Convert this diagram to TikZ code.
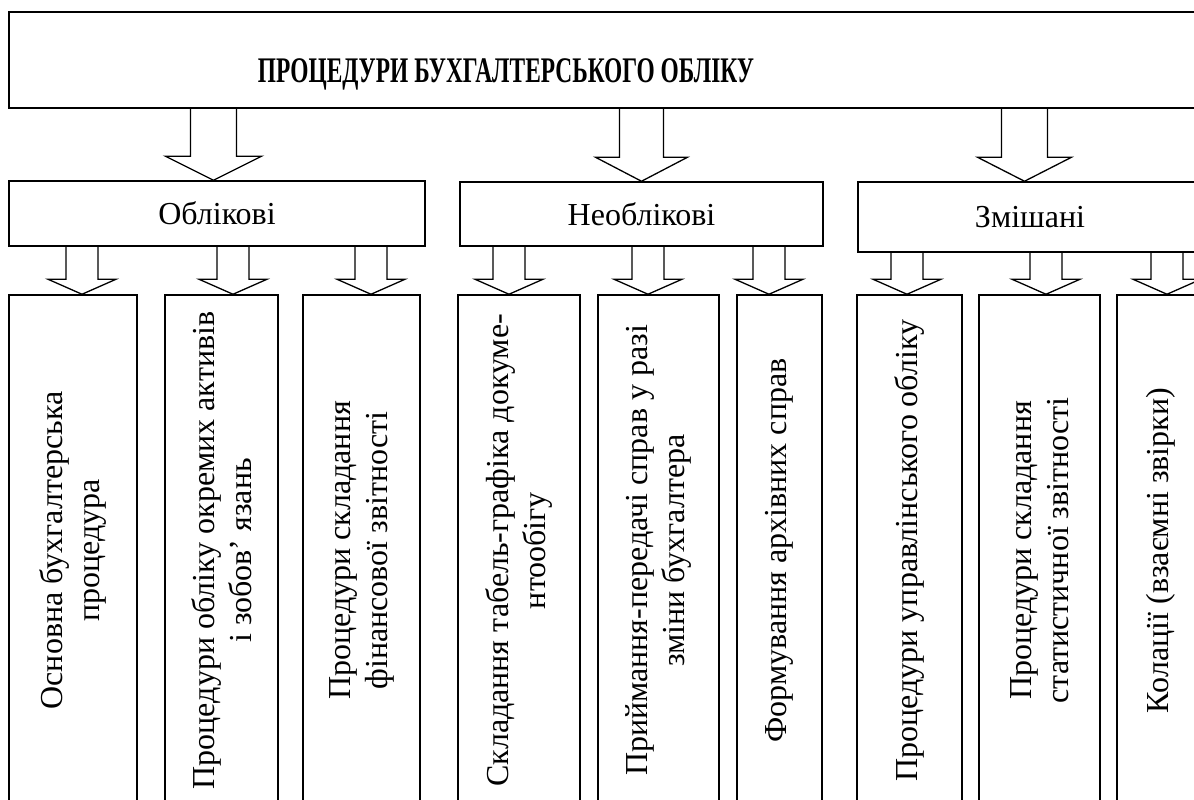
\documentclass[tikz,border=0pt]{standalone}
\usepackage{fontspec}
\setmainfont{Liberation Serif}
\usetikzlibrary{calc}

\tikzset{
  frame/.style={draw, line width=1.5pt, rectangle, inner sep=0pt},
  catbox/.style={frame, font=\fontsize{32}{37}\selectfont},
  leaf/.style={frame, rotate=90, minimum width=511pt, align=center,
               font=\fontsize{32}{37}\selectfont},
  arrowline/.style={draw, line width=1.3pt, line join=miter},
}

% hollow block arrow: source anchor, target anchor, x, shaft half-width,
% head half-width, head length (all in pt)
\newcommand\blockarrow[6]{%
  \draw[arrowline] let \p1=(#1), \p2=(#2) in
    (#3pt-#4pt,\y1) -- (#3pt-#4pt,\y2+#6pt) -- (#3pt-#5pt,\y2+#6pt) --
    (#3pt,\y2) -- (#3pt+#5pt,\y2+#6pt) -- (#3pt+#4pt,\y2+#6pt) --
    (#3pt+#4pt,\y1);}

\begin{document}
\begin{tikzpicture}[x=1pt,y=-1pt]
\useasboundingbox (0,0) rectangle (1194,800);
\clip (0,0) rectangle (1194,800);

% top level
\node[frame, minimum width=1201pt, minimum height=96pt] (root) at (609.5,60) {};
\node[font=\bfseries\fontsize{36}{40}\selectfont] (title) at (506,74)
  {\scalebox{0.65}[1]{ПРОЦЕДУРИ БУХГАЛТЕРСЬКОГО ОБЛІКУ}};

% categories
\node[catbox, minimum width=416pt, minimum height=65pt] (obl) at (217,213.5) {Облікові};
\node[catbox, minimum width=363pt, minimum height=64pt] (neobl) at (641.5,214) {Необлікові};
\node[catbox, minimum width=344pt, minimum height=70pt] (zmish) at (1030,217) {Змішані};

% procedures
\node[leaf, minimum height=128pt] (b1) at (73,550.5) {Основна бухгалтерська\\процедура};
\node[leaf, minimum height=113pt] (b2) at (221.5,550.5) {Процедури обліку окремих активів\\і зобов’ язань};
\node[leaf, minimum height=117pt] (b3) at (361.5,550.5) {Процедури складання\\фінансової звітності};
\node[leaf, minimum height=122pt] (b4) at (519,550.5) {Складання табель-графіка докуме-\\нтообігу};
\node[leaf, minimum height=121pt] (b5) at (658.5,550.5) {Приймання-передачі справ у разі\\зміни бухгалтера};
\node[leaf, minimum height=85pt] (b6) at (779.5,550.5) {Формування архівних справ};
\node[leaf, minimum height=105pt] (b7) at (909.5,550.5) {Процедури управлінського обліку};
\node[leaf, minimum height=121pt] (b8) at (1039.5,550.5) {Процедури складання\\статистичної звітності};
\node[leaf, minimum height=88pt] (b9) at (1161,550.5) {Колації (взаємні звірки)};

% arrows from the top box
\blockarrow{root.south}{obl.north}{213.5}{23}{48}{24}
\blockarrow{root.south}{neobl.north}{641.5}{22}{46}{24}
\blockarrow{root.south}{zmish.north}{1024.5}{23}{47}{24}

% arrows to the procedures (top edge of a rotated box is its east anchor)
\blockarrow{obl.south}{b1.east}{82}{16}{34}{15}
\blockarrow{obl.south}{b2.east}{233}{16}{34}{15}
\blockarrow{obl.south}{b3.east}{371}{16}{34}{15}
\blockarrow{neobl.south}{b4.east}{509}{16}{34}{15}
\blockarrow{neobl.south}{b5.east}{648}{16}{34}{15}
\blockarrow{neobl.south}{b6.east}{769}{16}{34}{15}
\blockarrow{zmish.south}{b7.east}{907}{16}{34}{15}
\blockarrow{zmish.south}{b8.east}{1046}{16}{34}{15}
\blockarrow{zmish.south}{b9.east}{1167}{16}{34}{15}
\end{tikzpicture}
\end{document}
